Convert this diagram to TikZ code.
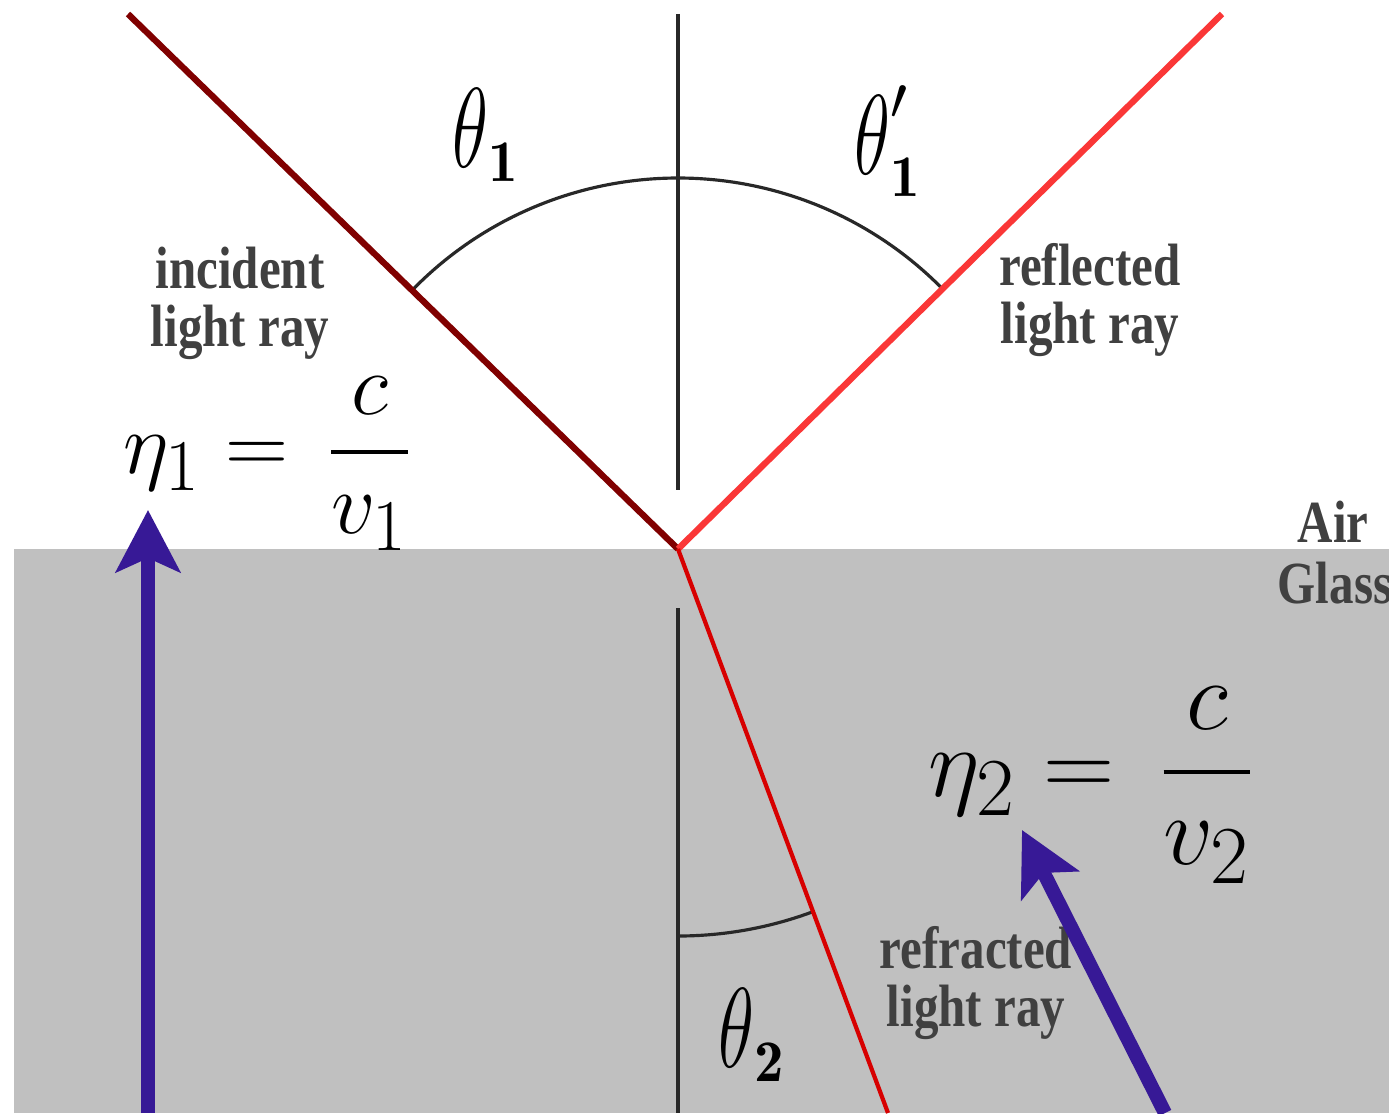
\documentclass[tikz,border=0pt]{standalone}
\usepackage{amsmath}
\usepackage{fontspec}
\usetikzlibrary{arrows.meta}
\newfontfamily\raylabelfont[FakeStretch=0.82]{Liberation Serif}

\definecolor{glassgray}{RGB}{192,192,192}
\definecolor{incred}{RGB}{128,0,0}
\definecolor{reflred}{RGB}{250,55,55}
\definecolor{refrred}{RGB}{215,0,0}
\definecolor{idxblue}{RGB}{55,25,150}
\definecolor{txtgray}{RGB}{64,64,64}
\definecolor{normgray}{RGB}{40,40,40}

\newcommand{\tallth}{\scalebox{0.85}[1.3]{$\theta$}}

\tikzset{
  lbl/.style={font=\raylabelfont\bfseries\fontsize{17}{16.5}\selectfont, text=txtgray, align=center},
  ang/.style={font=\fontsize{24}{28}\selectfont},
  eqn/.style={font=\fontsize{24.88}{30}\selectfont},
  normal/.style={draw=normgray, line width=0.9pt},
  idx/.style={draw=idxblue, line width=4pt, -{Stealth[length=6.2mm, width=6.4mm, inset=1.4mm]}}
}

\begin{document}
\begin{tikzpicture}
\useasboundingbox (0,0) rectangle (13.89,11.13);
\fill[white] (0,0) rectangle (13.89,11.13);

% Glass block
\fill[glassgray] (0.14,0) rectangle (13.89,5.64);

% Points
\coordinate (o) at (6.78,5.64);
\coordinate (src) at (1.28,10.99);
\coordinate (refl) at (12.22,10.99);
\coordinate (refr) at (8.88,0);
\coordinate (nt) at (6.78,10.99);
\coordinate (ntb) at (6.78,6.23);
\coordinate (nbt) at (6.78,5.05);
\coordinate (nb) at (6.78,0);

% Normal
\draw[normal] (nt)--(ntb);
\draw[normal] (nbt)--(nb);

% Angle arcs
\draw[normal] (o) ++(135.8:3.71) arc[start angle=135.8, end angle=44.5, radius=3.71];
\draw[normal] (o) ++(-90:3.87) arc[start angle=-90, end angle=-69.6, radius=3.87];

% Rays
\draw[incred, line width=1.8pt] (src)--(o);
\draw[reflred, line width=1.8pt] (o)--(refl);
\draw[refrred, line width=1.2pt] (o)--(refr);

% Labels
\node[lbl] (inc) at (2.40,8.10) {incident\\light ray};
\node[lbl] (rfl) at (10.90,8.13) {reflected\\light ray};
\node[lbl] (rfr) at (9.76,1.30) {refracted\\light ray};
\node[lbl] (air) at (13.33,5.91) {Air};
\node[lbl] (gls) at (13.35,5.30) {Glass};

\node[ang] (t1) at (4.86,9.78) {$\tallth_{\mathbf{1}}$};
\node[ang] (t1p) at (8.88,9.72) {$\tallth'_{\mathbf{1}}$};
\node[ang] (t2) at (7.52,0.78) {$\tallth_{\mathbf{2}}$};

% Refractive indices
\node[eqn] (eq1) at (2.68,6.49) {$\eta_1 = \mkern3mu\dfrac{c}{v_1}$};
\node[eqn] (eq2) at (10.92,3.28) {\scalebox{1.13}{$\eta_2 = \mkern3mu\dfrac{c}{v_2}$}};

\coordinate (a1) at (1.48,0);
\coordinate (a1t) at (1.48,6.03);
\coordinate (a2) at (11.65,0);
\coordinate (a2t) at (10.22,2.83);

\draw[idx] (a1)--(a1t);
\draw[idx] (a2)--(a2t);

\end{tikzpicture}
\end{document}
